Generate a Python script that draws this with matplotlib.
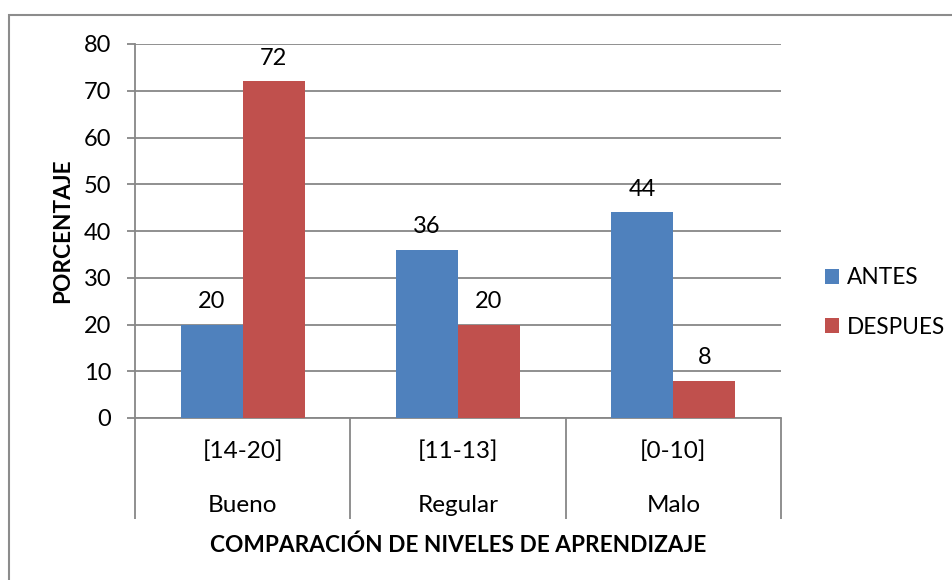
import numpy as np
import matplotlib
matplotlib.use('Agg')
import matplotlib.pyplot as plt
from matplotlib.patches import Rectangle

plt.rcParams['font.family'] = ['Lato', 'DejaVu Sans']

# Datos
niveles = ['Bueno', 'Regular', 'Malo']
rangos = ['[14-20]', '[11-13]', '[0-10]']
antes = [20, 36, 44]
despues = [72, 20, 8]
series = ['ANTES', 'DESPUES']
colores = ['#4F81BD', '#C0504D']
gris = '#878787'

fig = plt.figure(figsize=(9.53, 5.8), dpi=100)
ax = fig.add_axes([135/953, 1 - 418/580, (781-135)/953, (418-44)/580])

# Marco exterior
fig.patches.append(Rectangle((9/953, -0.05), 1.2, 1 - 15/580 + 0.05,
                             transform=fig.transFigure, fill=False,
                             edgecolor='#8c8c8c', lw=1.5))

x = np.arange(len(niveles))
w = 0.288
b1 = ax.bar(x - w/2, antes, w, color=colores[0], label=series[0], zorder=3)
b2 = ax.bar(x + w/2, despues, w, color=colores[1], label=series[1], zorder=3)

for bars in (b1, b2):
    for r in bars:
        ax.annotate(f'{r.get_height():g}', (r.get_x() + r.get_width()/2, r.get_height()),
                    xytext=(0, 16.5), textcoords='offset points', ha='center', va='center',
                    fontsize=17)

ax.set_xlim(-0.5, 2.5)
ax.set_ylim(0, 80)
ax.set_yticks(np.arange(0, 81, 10))
ax.yaxis.grid(True, color=gris, lw=1.3, zorder=0)
ax.tick_params(axis='y', length=6, width=1.3, color=gris, labelsize=17, pad=11)

# separadores de categoria
ax.set_xticks([-0.5, 0.5, 1.5, 2.5])
ax.set_xticklabels([])
ax.tick_params(axis='x', length=73, width=1.3, color=gris)

for s in ['top', 'right']:
    ax.spines[s].set_visible(False)
for s in ['left', 'bottom']:
    ax.spines[s].set_color(gris)
    ax.spines[s].set_linewidth(1.3)

tr = ax.get_xaxis_transform()
for i in range(len(niveles)):
    ax.text(x[i], -0.088, rangos[i], transform=tr, ha='center', va='center', fontsize=17.5)
    ax.text(x[i], -0.233, niveles[i], transform=tr, ha='center', va='center', fontsize=17.5)

ax.text(0.5, -0.34, 'COMPARACIÓN DE NIVELES DE APRENDIZAJE', transform=ax.transAxes,
        ha='center', va='center', fontsize=16.3, fontweight='bold')
ax.text(-0.112, 0.5, 'PORCENTAJE', transform=ax.transAxes, rotation=90,
        ha='center', va='center', fontsize=16.3, fontweight='bold')

fig.legend(handles=[b1, b2], labels=series, loc='center left',
           bbox_to_anchor=(825/953, 1 - 302.5/580), frameon=False, fontsize=16.3,
           borderpad=0, borderaxespad=0, handlelength=0.6, handleheight=0.6,
           handletextpad=0.35, labelspacing=1.25)

fig.savefig('out.png', dpi=100)
